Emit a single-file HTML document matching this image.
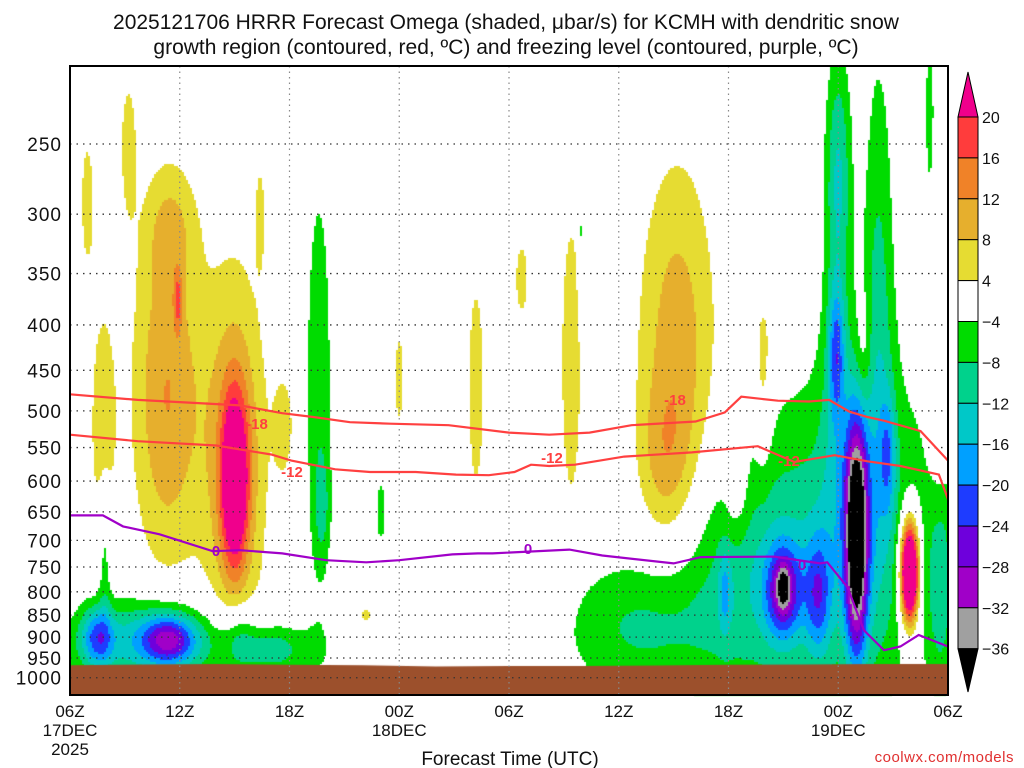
<!DOCTYPE html>
<html><head><meta charset="utf-8">
<style>
body{margin:0;background:#fff;width:1024px;height:768px;overflow:hidden;font-family:"Liberation Sans",sans-serif;}
#wrap{position:relative;width:1024px;height:768px;}
canvas{position:absolute;left:0;top:0;}
svg{position:absolute;left:0;top:0;}
</style></head>
<body>
<div id="wrap">
<canvas id="field" width="1024" height="768"></canvas>
<svg id="ov" width="1024" height="768"></svg>
</div>
<script>
// ---- data ----
const pressureTicks=[250,300,350,400,450,500,550,600,650,700,750,800,850,900,950,1000];
const timeTicks=[0,6,12,18,24,30,36,42,48];
const timeLabels=["06Z","12Z","18Z","00Z","06Z","12Z","18Z","00Z","06Z"];
const dateLabels={0:["17DEC","2025"],18:["18DEC"],42:["19DEC"]};
const levels=[-36,-32,-28,-24,-20,-16,-12,-8,-4,4,8,12,16,20];
const levelColors=["#000000","#a0a0a0","#a000c8","#6e00dc","#1e3cff","#00a0ff","#00c8c8","#00d28c","#00dc00","#ffffff","#e6dc32","#e6af2d","#f08228","#ff3c3c","#f0008c"];
// omega blobs: hour, pressure, amplitude, sigma-hour, sigma-hPa (at blob centre)
const blobHours=[0.95,1.8,3.2,5.3,5.9,5.5,9.0,9.0,10.4,11.7,16.2,18,22.2,24.7,27.4,33.2,32.5,36.5,37.9,45.9,43.4,47.5,
 1.5,5.4,4,7,1.9,11.0,13.6,13.8,17.0,31,37,43,35.8,39,39,40.9,43,41.9,41.9,44.7,42,44.2,47,37.8,27.9,47.6,9.3];
const blobPress=[290,520,250,480,375,310,600,560,300,520,850,460,470,355,440,430,570,620,430,760,430,480,
 900,905,900,930,720,930,470,640,650,880,770,680,800,800,790,810,690,430,500,560,270,400,230,320,320,800,900];
const blobAmp=[6,6.5,6,12,10,6,25,12,5.5,6,6,5.5,6,5.5,8,10.5,6,5.5,7,46,5.5,6,
 -15,-19,-10,-6,-7,-7,-7,-6,-7,-8,-9,-9,-8,-20,-12,-14,-40,-14,-6,-10,-12,-9,-6,-6,-6,-8,-6];
const blobSh=[0.3,0.55,0.35,1.3,0.15,1.0,0.5,1.2,0.2,0.4,0.3,0.25,0.4,0.35,0.4,1.5,1.0,0.5,0.35,0.35,0.3,0.4,
 0.6,1.0,2.5,5,0.25,1.2,0.55,0.3,0.2,3,3,3.5,0.25,0.7,0.25,0.5,0.44,0.3,0.6,0.3,0.5,0.6,0.2,0.4,0.1,0.5,0.6];
const blobSp=[40,130,35,150,20,35,90,190,30,50,12,55,120,35,120,150,80,60,90,70,50,80,
 50,40,70,60,100,35,200,60,40,110,180,220,60,70,30,90,148,50,150,60,60,200,40,40,40,150,60];
// contour lines (hour, pressure)
const line18H=[0,3.7,9.3,11.6,13.3,15.3,17.5,20.7,24,26.2,28.4,30.7,34.2,35.8,36.7,38.7,40.4,41.5,42.6,43.6,44.5,46.5,48];
const line18P=[479,486,493,503,508,515,517,519,529,532,529,519,514,502,482,487,488,486,501,508,513,527,569];
const line12H=[0,3.7,8,11,12.1,14.5,16.4,18.9,21.1,22.9,24.3,25.2,26.2,27.6,30.3,34,37.6,39.6,41.8,43.6,45.4,47.5,48];
const line12P=[532,541,547,560,569,582,586,586,590,591,586,575,577,575,563,557,548,571,561,570,577,590,629];
const line0H=[0,1.8,2.9,4.9,7.8,9.3,11.6,14,16.2,18,20.9,22.3,23.1,27.3,29.1,33,34.5,38.5,41,41.4,42.5,43.4,44.5,45.4,46.4,48];
const line0P=[656,656,675,689,720,718,724,737,741,737,726,724,724,717,728,743,731,730,743,741,790,884,931,922,895,922];
const groundH=[0,4,8,12,16,20,24,28,32,36,40,44,48];
const groundP=[968,966,965,967,968,971,970,970,969,967,966,965,965];

// ---- axes ----
const X0=70,X1=948,Y0=66,Y1=695;
const xOf=h=>X0+h*(X1-X0)/48;
const yOf=p=>144+Math.log(p/250)*385;
const pOfY=y=>250*Math.exp((y-144)/385);
const hOfX=x=>(x-X0)*48/(X1-X0);

// ---- field ----
const cv=document.getElementById('field');const ctx=cv.getContext('2d');
const bY=blobPress.map(p=>yOf(p));
const bSy=blobSp.map((s,i)=>s*385/blobPress[i]);
function val(h,y){let v=0;for(let i=0;i<blobAmp.length;i++){const dh=(h-blobHours[i])/blobSh[i],dp=(y-bY[i])/bSy[i];const e=dh*dh+dp*dp;if(e<18)v+=blobAmp[i]*Math.exp(-0.5*e);}return v;}
function colorFor(v){let k=0;while(k<levels.length&&v>=levels[k])k++;return levelColors[k];}
const C=2;
for(let y=Y0;y<Y1;y+=C){for(let x=X0;x<X1;x+=C){const c=colorFor(val(hOfX(x+C/2),y+C/2));if(c!=="#ffffff"){ctx.fillStyle=c;ctx.fillRect(x,y,C,C);}}}
// ground
ctx.fillStyle="#9c502c";ctx.beginPath();ctx.moveTo(X0,Y1);
groundH.forEach((h,i)=>ctx.lineTo(xOf(h),yOf(groundP[i])));ctx.lineTo(X1,Y1);ctx.closePath();ctx.fill();

// ---- overlay ----
const NS="http://www.w3.org/2000/svg";const svg=document.getElementById('ov');
function el(t,a,parent){const e=document.createElementNS(NS,t);for(const k in a)e.setAttribute(k,a[k]);(parent||svg).appendChild(e);return e;}
function txt(s,x,y,a){const e=el('text',Object.assign({x:x,y:y,'font-family':'Liberation Sans, sans-serif'},a));e.textContent=s;return e;}
// grid
pressureTicks.forEach(p=>{const g=el('line',{x1:X0,x2:X1,y1:yOf(p),y2:yOf(p),stroke:'#333','stroke-width':1.3,'stroke-dasharray':'1.5 5'});


const t=txt(String(p),62,yOf(p)+7,{'font-size':19,'text-anchor':'end',fill:'#111','letter-spacing':'1'});

});
timeTicks.forEach((h,i)=>{if(i>0&&i<timeTicks.length-1){const g=el('line',{x1:xOf(h),x2:xOf(h),y1:Y0,y2:Y1,stroke:'#888','stroke-width':1.2,'stroke-dasharray':'1.5 4'});

}
const t=txt(timeLabels[i],xOf(h),717,{'font-size':17,'text-anchor':'middle',fill:'#111'});


if(dateLabels[h])dateLabels[h].forEach((s,j)=>{const d=txt(s,xOf(h),736+j*19,{'font-size':17,'text-anchor':'middle',fill:'#111'});

});});
// lines
function drawLine(H,P,color,name,labs){const d=H.map((h,i)=>(i?'L':'M')+xOf(h).toFixed(1)+','+yOf(P[i]).toFixed(1)).join(' ');
const l=el('path',{d:d,fill:'none',stroke:color,'stroke-width':2.2});


labs.forEach(lb=>{const t=txt(lb[0],lb[1],lb[2]+5,{'font-size':15,'font-weight':'bold','text-anchor':'middle',fill:color});

});}
drawLine(line18H,line18P,'#ff4040','dgz-minus18-contour',[['-18',257,424],['-18',675,400]]);
drawLine(line12H,line12P,'#ff4040','dgz-minus12-contour',[['-12',292,472],['-12',552,458],['-12',789,461]]);
drawLine(line0H,line0P,'#a000c8','freezing-level-contour',[['0',216,551],['0',528,549],['0',802,565]]);
// frame
const fr=el('rect',{x:X0,y:Y0,width:X1-X0,height:Y1-Y0,fill:'none',stroke:'#000','stroke-width':2});


// colorbar
const cbX=958,cbW=20,cbTop=117,cbStep=40.9;
const cb=el('g',{});


el('polygon',{points:`${cbX},${cbTop} ${cbX+cbW},${cbTop} ${cbX+cbW/2},72`,fill:levelColors[14],stroke:'#000','stroke-width':1},cb);
for(let k=13;k>=1;k--){const i=13-k;el('rect',{x:cbX,y:cbTop+i*cbStep,width:cbW,height:cbStep,fill:levelColors[k],stroke:'#000','stroke-width':1},cb);}
const cbBot=cbTop+13*cbStep;
el('polygon',{points:`${cbX},${cbBot} ${cbX+cbW},${cbBot} ${cbX+cbW/2},692`,fill:'#000',stroke:'#000','stroke-width':1},cb);
levels.slice().reverse().forEach((lv,i)=>{const t=txt((lv<0?'\u2212':'')+Math.abs(lv),982,cbTop+i*cbStep+6,{'font-size':16,fill:'#111'});

});
// titles
const t1=txt('2025121706 HRRR Forecast Omega (shaded, \u03bcbar/s) for KCMH with dendritic snow',506,29,{'font-size':21,'text-anchor':'middle',fill:'#111'});


const t2=txt('growth region (contoured, red, \u00baC) and freezing level (contoured, purple, \u00baC)',506,54,{'font-size':21,'text-anchor':'middle',fill:'#111'});


const xt=txt('Forecast Time (UTC)',510,765,{'font-size':19,'text-anchor':'middle',fill:'#111'});


const cr=txt('coolwx.com/models',1014,762,{'font-size':15,'text-anchor':'end',fill:'#e03030','letter-spacing':'0.5'});


</script>
</body></html>
